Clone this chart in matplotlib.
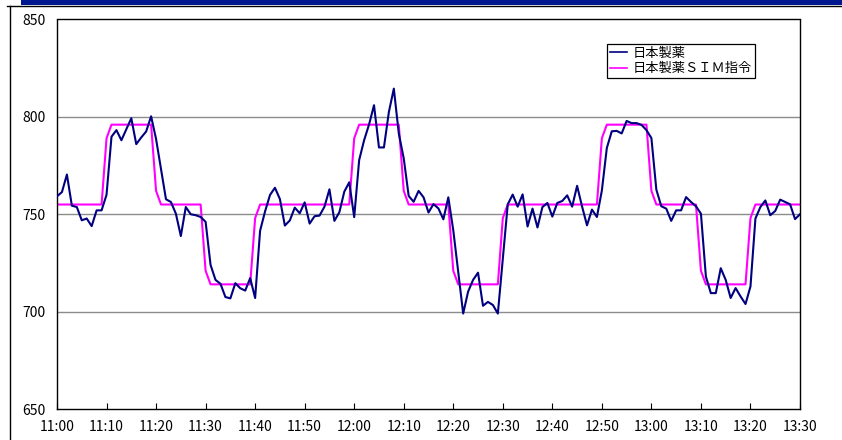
import matplotlib
matplotlib.use("Agg")
import matplotlib.pyplot as plt
from matplotlib.lines import Line2D
from matplotlib.patches import Rectangle
import numpy as np

plt.rcParams['font.family'] = ['Noto Sans CJK JP', 'DejaVu Sans']

# Time axis labels, one every 10 minutes from 11:00 to 13:30
tick_labels = ["11:00", "11:10", "11:20", "11:30", "11:40", "11:50", "12:00",
               "12:10", "12:20", "12:30", "12:40", "12:50", "13:00", "13:10",
               "13:20", "13:30"]

# Minute-by-minute values, 11:00 .. 13:30
nihon_seiyaku = [
    759.2, 761.4, 770.4, 754.4, 753.7, 746.9, 747.8, 743.9, 752.0, 752.0,
    760.0, 789.8, 793.2, 788.0, 793.7, 799.3, 786.0, 789.4, 792.5, 800.3,
    788.6, 773.3, 757.7, 756.3, 750.3, 738.8, 753.7, 750.0, 749.5, 748.6,
    746.1, 724.0, 716.3, 714.3, 707.5, 706.8, 714.6, 712.0, 710.8, 717.2,
    707.0, 741.5, 751.4, 759.9, 763.6, 757.8, 744.2, 746.8, 753.4, 750.5,
    756.1, 745.2, 749.0, 749.3, 753.9, 762.8, 746.6, 751.0, 761.6, 766.4,
    748.5, 777.8, 788.0, 796.1, 806.0, 784.3, 784.3, 802.5, 814.5, 791.5,
    778.7, 759.4, 756.4, 762.0, 758.7, 750.9, 755.2, 753.0, 747.4, 758.7,
    741.8, 720.5, 699.0, 710.3, 716.3, 720.0, 703.0, 705.0, 703.4, 699.0,
    727.0, 755.1, 760.1, 753.9, 760.2, 743.7, 752.9, 743.2, 753.7, 755.8,
    748.8, 755.8, 756.8, 759.7, 753.9, 764.6, 754.0, 744.3, 752.4, 748.6,
    762.2, 784.0, 792.6, 792.8, 791.5, 797.9, 796.8, 796.8, 795.9, 793.2,
    789.1, 762.6, 754.1, 752.9, 746.6, 752.0, 752.0, 758.8, 756.3, 754.1,
    750.3, 718.0, 709.5, 709.5, 722.3, 716.3, 707.0, 712.1, 707.8, 703.9,
    712.9, 747.8, 753.7, 757.1, 749.5, 751.7, 757.5, 756.3, 755.1, 747.5,
    750.0,
]

sim_command = [
    755, 755, 755, 755, 755, 755, 755, 755, 755, 755,
    789, 796, 796, 796, 796, 796, 796, 796, 796, 796,
    762, 755, 755, 755, 755, 755, 755, 755, 755, 755,
    721, 714, 714, 714, 714, 714, 714, 714, 714, 714,
    748, 755, 755, 755, 755, 755, 755, 755, 755, 755,
    755, 755, 755, 755, 755, 755, 755, 755, 755, 755,
    789, 796, 796, 796, 796, 796, 796, 796, 796, 796,
    762, 755, 755, 755, 755, 755, 755, 755, 755, 755,
    721, 714, 714, 714, 714, 714, 714, 714, 714, 714,
    748, 755, 755, 755, 755, 755, 755, 755, 755, 755,
    755, 755, 755, 755, 755, 755, 755, 755, 755, 755,
    789, 796, 796, 796, 796, 796, 796, 796, 796, 796,
    762, 755, 755, 755, 755, 755, 755, 755, 755, 755,
    721, 714, 714, 714, 714, 714, 714, 714, 714, 714,
    748, 755, 755, 755, 755, 755, 755, 755, 755, 755,
    755,
]

series_names = ["日本製薬", "日本製薬ＳＩＭ指令"]
y_ticks = [650, 700, 750, 800, 850]

W, H = 842, 440
fig = plt.figure(figsize=(W / 100, H / 100), dpi=100)

# Header band and chart-area frame
fig.patches.append(Rectangle((21 / W, 1 - 5.5 / H), 1 - 21 / W, 5.5 / H,
                             transform=fig.transFigure, facecolor="#00188f",
                             edgecolor="none", zorder=0))
fig.lines.append(Line2D([7 / W, 1], [1 - 6.5 / H, 1 - 6.5 / H],
                        transform=fig.transFigure, color="black", lw=1.0))
fig.lines.append(Line2D([9.5 / W, 9.5 / W], [0, 1 - 6.5 / H],
                        transform=fig.transFigure, color="black", lw=1.0))

ax = fig.add_axes([57 / W, (H - 409) / H, (800 - 57) / W, (409 - 19.5) / H])

minutes = np.arange(len(nihon_seiyaku))
ax.plot(minutes, nihon_seiyaku, color="#000080", lw=1.5, label=series_names[0], zorder=3)
ax.plot(minutes, sim_command, color="#ff00ff", lw=1.5, label=series_names[1], zorder=2)

ax.set_xlim(0, 150)
ax.set_ylim(650, 850)
ax.set_xticks(np.arange(0, 151, 10))
ax.set_xticklabels(tick_labels)
ax.set_yticks(y_ticks)
ax.set_yticklabels([str(v) for v in y_ticks])

ax.tick_params(axis="x", direction="in", length=4, width=0.8, pad=8,
               labelsize=10, colors="black")
ax.tick_params(axis="y", length=0, pad=8.5, labelsize=10)

for v in [700, 750, 800]:
    ax.axhline(v, color="#8c8c8c", lw=1.0, zorder=1)

for s in ax.spines.values():
    s.set_color("black")
    s.set_linewidth(1.0)

leg = ax.legend(loc="upper left", bbox_to_anchor=(607 / W, 1 - 44 / H),
                bbox_transform=fig.transFigure, frameon=True, fancybox=False,
                edgecolor="black", framealpha=1, fontsize=9.5,
                handlelength=1.3, handletextpad=0.45, labelspacing=0.2,
                borderpad=0.2, borderaxespad=0)
leg.get_frame().set_linewidth(0.9)
for line in leg.get_lines():
    line.set_linewidth(1.2)

fig.savefig("out.png", dpi=100)
